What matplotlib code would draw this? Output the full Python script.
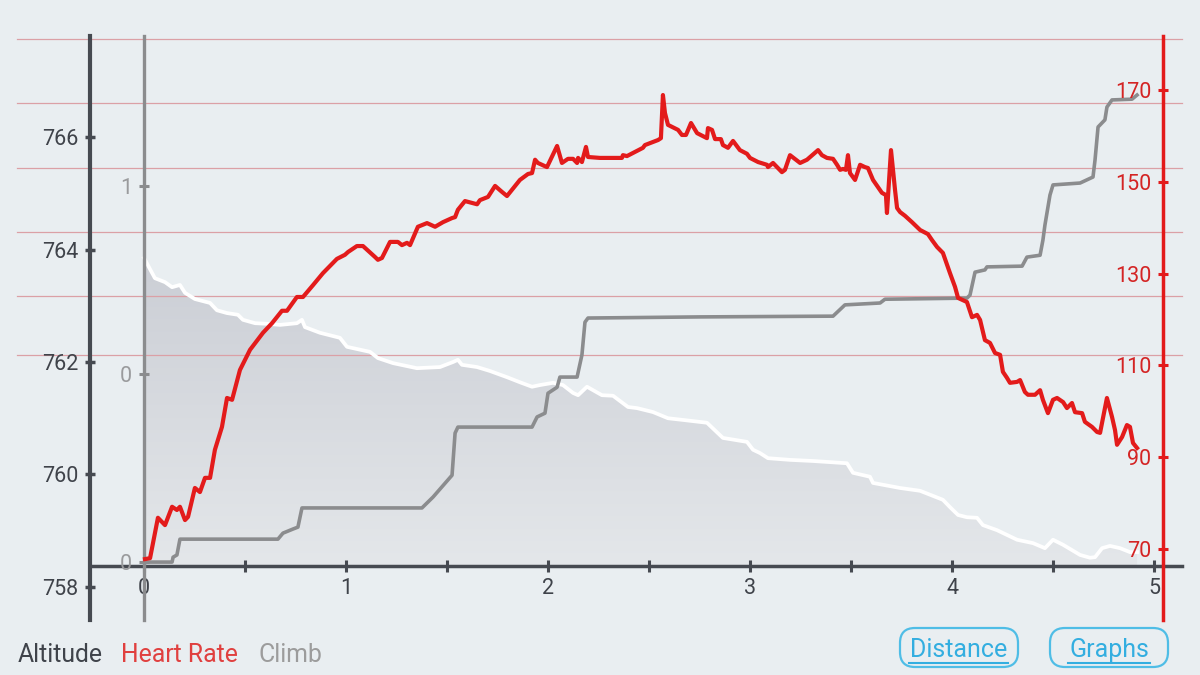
import matplotlib
matplotlib.use('Agg')
import matplotlib.pyplot as plt
import numpy as np
from matplotlib.lines import Line2D
from matplotlib.patches import FancyBboxPatch, Polygon
from matplotlib.ticker import FuncFormatter
from matplotlib.colors import LinearSegmentedColormap
from matplotlib.transforms import IdentityTransform

plt.rcParams['font.family'] = ['Roboto', 'DejaVu Sans']

# ---------------- data ----------------
hr_dist = [0.005, 0.03, 0.069, 0.104, 0.139, 0.163, 0.178, 0.203, 0.218, 0.252, 0.277, 0.302,
           0.327, 0.351, 0.386, 0.411, 0.436, 0.475, 0.525, 0.589, 0.634, 0.683, 0.708, 0.757,
           0.787, 0.837, 0.886, 0.955, 0.995, 1.01, 1.054, 1.084, 1.144, 1.158, 1.178, 1.218,
           1.257, 1.277, 1.302, 1.317, 1.356, 1.401, 1.441, 1.48, 1.525, 1.54, 1.554, 1.589,
           1.649, 1.663, 1.703, 1.738, 1.772, 1.797, 1.861, 1.901, 1.921, 1.936, 1.95, 1.995,
           2.045, 2.069, 2.099, 2.124, 2.144, 2.149, 2.168, 2.188, 2.198, 2.257, 2.366, 2.371,
           2.391, 2.47, 2.48, 2.545, 2.559, 2.569, 2.579, 2.594, 2.644, 2.663, 2.683, 2.708,
           2.738, 2.787, 2.792, 2.812, 2.827, 2.856, 2.866, 2.891, 2.916, 2.95, 2.985, 3.0,
           3.04, 3.084, 3.089, 3.114, 3.158, 3.173, 3.198, 3.248, 3.282, 3.337, 3.356, 3.381,
           3.411, 3.431, 3.446, 3.46, 3.475, 3.485, 3.495, 3.52, 3.545, 3.569, 3.584, 3.609,
           3.653, 3.673, 3.678, 3.698, 3.718, 3.728, 3.743, 3.767, 3.802, 3.842, 3.881, 3.901,
           3.926, 3.955, 3.99, 4.015, 4.03, 4.074, 4.099, 4.124, 4.139, 4.163, 4.188, 4.213,
           4.238, 4.252, 4.272, 4.287, 4.322, 4.337, 4.361, 4.376, 4.411, 4.436, 4.45, 4.475,
           4.5, 4.52, 4.55, 4.569, 4.594, 4.609, 4.644, 4.658, 4.693, 4.718, 4.733, 4.767,
           4.792, 4.807, 4.817, 4.842, 4.866, 4.881, 4.896, 4.916]
hr_bpm = [67.8, 68.0, 76.8, 75.2, 79.2, 78.5, 79.2, 76.3, 77.0, 83.3, 82.4, 85.5,
          85.5, 91.6, 96.6, 102.9, 102.5, 109.0, 113.4, 117.1, 119.2, 121.9, 121.9, 124.9,
          124.9, 127.5, 130.1, 133.2, 134.1, 134.7, 136.0, 136.0, 133.6, 133.0, 133.4, 136.9,
          136.9, 136.2, 136.7, 136.2, 140.2, 141.0, 140.2, 141.2, 142.1, 142.3, 143.9, 145.8,
          145.1, 146.0, 146.7, 149.1, 147.8, 146.9, 150.4, 151.7, 151.9, 154.8, 154.1, 153.2,
          157.8, 154.1, 155.0, 155.0, 154.1, 155.2, 154.3, 157.6, 155.4, 155.2, 155.2, 155.8,
          155.6, 157.4, 158.0, 159.1, 159.5, 168.9, 165.0, 162.4, 161.3, 160.2, 160.2, 162.8,
          160.6, 159.5, 161.7, 161.3, 159.3, 159.3, 158.0, 157.4, 158.9, 156.9, 156.1, 155.2,
          154.3, 153.7, 153.2, 154.1, 152.1, 152.6, 155.8, 154.1, 154.8, 156.9, 155.8, 155.2,
          155.0, 153.7, 152.6, 152.8, 152.6, 155.8, 151.9, 150.4, 153.7, 153.2, 153.0, 150.4,
          147.6, 147.1, 143.2, 156.9, 148.2, 144.3, 143.4, 142.6, 141.2, 139.5, 138.6, 137.3,
          135.8, 134.5, 130.1, 127.1, 124.7, 123.8, 120.5, 121.0, 119.9, 115.5, 114.9, 112.7,
          112.3, 108.6, 107.3, 106.2, 106.4, 106.8, 104.2, 103.6, 103.6, 104.6, 102.5, 99.6,
          102.5, 102.9, 102.0, 100.7, 101.8, 99.8, 99.6, 97.7, 96.6, 95.5, 95.3, 102.9,
          98.8, 95.9, 92.7, 94.4, 97.0, 96.6, 93.1, 92.0]

alt_dist = [0.0, 0.054, 0.104, 0.139, 0.178, 0.203, 0.252, 0.327, 0.361, 0.411, 0.465, 0.49,
            0.55, 0.609, 0.673, 0.757, 0.782, 0.797, 0.871, 0.97, 1.005, 1.119, 1.158, 1.233,
            1.351, 1.465, 1.53, 1.554, 1.574, 1.649, 1.713, 1.797, 1.861, 1.921, 1.96, 2.025,
            2.074, 2.124, 2.149, 2.193, 2.267, 2.322, 2.396, 2.441, 2.52, 2.594, 2.668, 2.787,
            2.866, 2.985, 3.015, 3.05, 3.089, 3.198, 3.312, 3.48, 3.51, 3.594, 3.609, 3.743,
            3.842, 3.955, 3.99, 4.03, 4.074, 4.124, 4.153, 4.223, 4.322, 4.401, 4.46, 4.5,
            4.55, 4.634, 4.683, 4.708, 4.743, 4.782, 4.832, 4.881, 4.916]
alt_m = [763.85, 763.49, 763.42, 763.33, 763.37, 763.23, 763.12, 763.05, 762.92, 762.87, 762.84, 762.75,
         762.69, 762.68, 762.66, 762.69, 762.75, 762.62, 762.52, 762.43, 762.27, 762.18, 762.07, 761.98,
         761.89, 761.91, 762.0, 762.04, 761.95, 761.91, 761.84, 761.73, 761.64, 761.56, 761.59, 761.63,
         761.59, 761.45, 761.41, 761.56, 761.41, 761.40, 761.20, 761.18, 761.11, 761.0, 760.97, 760.92,
         760.65, 760.58, 760.44, 760.38, 760.29, 760.26, 760.24, 760.20, 760.03, 759.96, 759.85, 759.76,
         759.71, 759.55, 759.42, 759.28, 759.24, 759.23, 759.10, 759.01, 758.84, 758.78, 758.69, 758.84,
         758.75, 758.57, 758.52, 758.53, 758.69, 758.73, 758.69, 758.62, 758.62]

climb_dist = [0.005, 0.139, 0.144, 0.163, 0.178, 0.663, 0.688, 0.738, 0.762, 0.782, 1.376, 1.431,
              1.525, 1.54, 1.554, 1.921, 1.946, 1.985, 2.0, 2.045, 2.059, 2.144, 2.168, 2.183,
              2.198, 2.752, 3.411, 3.47, 3.644, 3.668, 4.074, 4.089, 4.114, 4.163, 4.173, 4.347,
              4.371, 4.436, 4.45, 4.46, 4.485, 4.5, 4.634, 4.698, 4.708, 4.723, 4.757, 4.767,
              4.792, 4.891, 4.916]
climb_val = [0.0, 0.0, 0.013, 0.019, 0.061, 0.061, 0.077, 0.088, 0.093, 0.144, 0.144, 0.173,
             0.231, 0.343, 0.359, 0.359, 0.386, 0.396, 0.449, 0.465, 0.492, 0.492, 0.551, 0.638,
             0.649, 0.652, 0.654, 0.684, 0.689, 0.699, 0.702, 0.710, 0.771, 0.777, 0.785, 0.787,
             0.811, 0.816, 0.856, 0.896, 0.976, 1.003, 1.008, 1.024, 1.069, 1.157, 1.176, 1.210,
             1.229, 1.231, 1.242]

alt_ticks = [758, 760, 762, 764, 766]
hr_ticks = [70, 90, 110, 130, 150, 170]
climb_ticks = [0, 0.5, 1]
dist_ticks = [0, 1, 2, 3, 4, 5]
dist_minor = [0.5, 1.5, 2.5, 3.5, 4.5]
legend_labels = ['Altitude', 'Heart Rate', 'Climb']
button_labels = ['Distance', 'Graphs']

# ---------------- style ----------------
BG = '#e9eef1'
C_ALT = '#464a51'
C_ALT_TXT = '#3f434a'
C_HR = '#e31b1b'
C_HR_TXT = '#d42424'
C_CL = '#8b8c8e'
C_GRID = '#dba0a6'
C_BTN = '#4fbde6'

fig = plt.figure(figsize=(12, 6.75), dpi=100, facecolor=BG)
W, H = 1200.0, 675.0

ax = fig.add_axes([90 / W, (H - 620) / H, (1182 - 90) / W, (620 - 36) / H])
ax.patch.set_visible(False)
ax.set_xlim(-0.2673, 5.1386)
ax.set_ylim(757.413, 767.796)
base_alt = 758.373

ax_cl = ax.twinx()
ax_hr = ax.twinx()
ax_cl.set_ylim(-0.154, 1.399)
ax_hr.set_ylim(54.53, 181.76)
ax_cl.set_zorder(ax.get_zorder() + 1)
ax_hr.set_zorder(ax.get_zorder() + 2)

# gridlines (figure-space decorations)
for py in [39, 103.3, 167.7, 231.7, 296, 355.3]:
    ax.add_line(Line2D([17 / W, 1182 / W], [(H - py) / H] * 2, transform=fig.transFigure,
                       color=C_GRID, lw=0.9, clip_on=False, zorder=1.5))

# altitude gradient fill
verts = [(alt_dist[0], base_alt)] + list(zip(alt_dist, alt_m)) + [(alt_dist[-1], base_alt)]
poly = Polygon(verts, closed=True, facecolor='none', edgecolor='none')
ax.add_patch(poly)
cmap = LinearSegmentedColormap.from_list('g', ['#e4e7ea', '#cbced5'])
grad = np.linspace(0, 1, 256).reshape(-1, 1)
im = ax.imshow(grad, extent=[alt_dist[0], alt_dist[-1], base_alt, max(alt_m)], origin='lower',
               aspect='auto', cmap=cmap, zorder=1)
im.set_clip_path(poly)
ax.plot(alt_dist, alt_m, color='white', lw=2.7, zorder=2, solid_joinstyle='round')
ax.set_xlim(-0.2673, 5.1386)
ax.set_ylim(757.413, 767.796)

ax_cl.plot(climb_dist, climb_val, color=C_CL, lw=2.6, solid_joinstyle='round')
ax_hr.plot(hr_dist, hr_bpm, color=C_HR, lw=3.0, solid_joinstyle='round')

# ---- spines / ticks: main (altitude + distance)
for s in ['top', 'right']:
    ax.spines[s].set_visible(False)
ax.spines['left'].set_color(C_ALT)
ax.spines['left'].set_linewidth(3.0)
ax.spines['bottom'].set_position(('data', base_alt))
ax.spines['bottom'].set_color(C_ALT)
ax.spines['bottom'].set_linewidth(2.5)
ax.set_yticks(alt_ticks)
ax.yaxis.set_major_formatter(FuncFormatter(lambda v, p: f'{v:.0f}'))
ax.tick_params(axis='y', direction='inout', length=7, width=2.5, color=C_ALT,
               labelcolor=C_ALT_TXT, labelsize=15.5, pad=5)
ax.set_xticks(dist_ticks)
ax.set_xticks(dist_minor, minor=True)
ax.xaxis.set_major_formatter(FuncFormatter(lambda v, p: f'{v:.0f}'))
ax.tick_params(axis='x', which='both', direction='inout', length=9, width=2.2, color=C_ALT,
               labelcolor=C_ALT_TXT, labelsize=15.5, pad=4)

# ---- climb axis
for s in ['top', 'right', 'bottom']:
    ax_cl.spines[s].set_visible(False)
ax_cl.spines['left'].set_visible(True)
ax_cl.spines['left'].set_position(('data', 0.0))
ax_cl.spines['left'].set_color(C_CL)
ax_cl.spines['left'].set_linewidth(2.4)
ax_cl.yaxis.tick_left()
ax_cl.set_yticks(climb_ticks)
ax_cl.yaxis.set_major_formatter(FuncFormatter(lambda v, p: f'{v:.0f}'))
ax_cl.tick_params(axis='y', direction='inout', length=7, width=2.2, color=C_CL,
                  labelcolor='#9a9b9d', labelsize=15.5, pad=5)

# ---- heart-rate axis
for s in ['top', 'right', 'bottom']:
    ax_hr.spines[s].set_visible(False)
ax_hr.spines['left'].set_visible(True)
ax_hr.spines['left'].set_position(('axes', (1163 - 90) / (1182 - 90)))
ax_hr.spines['left'].set_color(C_HR)
ax_hr.spines['left'].set_linewidth(2.5)
ax_hr.yaxis.tick_left()
ax_hr.set_yticks(hr_ticks)
ax_hr.yaxis.set_major_formatter(FuncFormatter(lambda v, p: f'{v:.0f}'))
ax_hr.tick_params(axis='y', direction='inout', length=7, width=2.2, color=C_HR,
                  labelcolor=C_HR_TXT, labelsize=15.5, pad=5)

# ---- legend text
leg_cols = [C_ALT_TXT, '#e0403f', '#9c9c9c']
leg_x = [18, 121, 258]
for lab, c, x in zip(legend_labels, leg_cols, leg_x):
    fig.text(x / W, (H - 662) / H, lab, color=c, fontsize=17.8, ha='left', va='baseline')

# ---- buttons
btn_boxes = [(900, 1018, 909, 1008), (1050, 1168, 1068, 1150)]
for lab, (x0, x1, u0, u1) in zip(button_labels, btn_boxes):
    box = FancyBboxPatch((x0, H - 667), x1 - x0, 39,
                         boxstyle='round,pad=0,rounding_size=15',
                         transform=IdentityTransform(), facecolor='none',
                         edgecolor=C_BTN, lw=1.6)
    fig.add_artist(box)
    fig.text((u0 + u1) / 2 / W, (H - 657) / H, lab, color='#33aee0', fontsize=18,
             ha='center', va='baseline')
    fig.add_artist(Line2D([u0 / W, u1 / W], [(H - 663) / H] * 2, transform=fig.transFigure,
                          color='#33aee0', lw=1.5))

fig.savefig('out.png', dpi=100, facecolor=BG)
